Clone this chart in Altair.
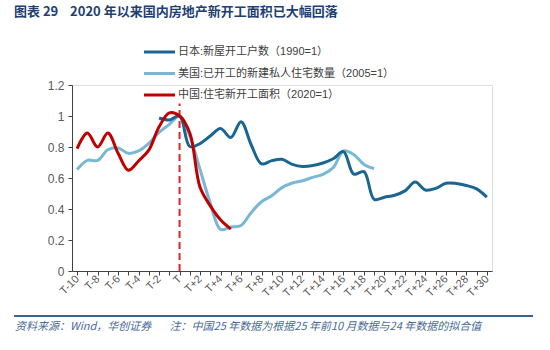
import altair as alt
import pandas as pd

periods = list(range(-10, 31))

japan = [None] * 8 + [0.987, 0.974, 1.0, 0.803, 0.822, 0.871, 0.920, 0.861, 0.963, 0.813,
                      0.691, 0.712, 0.721, 0.688, 0.674, 0.680, 0.697, 0.724, 0.770, 0.625,
                      0.641, 0.462, 0.476, 0.489, 0.517, 0.574, 0.523, 0.533, 0.566, 0.565,
                      0.552, 0.530, 0.477]
us = [0.655, 0.714, 0.713, 0.782, 0.794, 0.759, 0.775, 0.824, 0.894, 0.946,
      1.0, 0.871, 0.655, 0.438, 0.268, 0.284, 0.294, 0.378, 0.447, 0.485,
      0.538, 0.568, 0.582, 0.604, 0.624, 0.667, 0.774, 0.751, 0.687, 0.661] + [None] * 11
china = [0.79, 0.89, 0.80, 0.89, 0.76, 0.65, 0.71, 0.78, 0.93, 1.02,
         1.0, 0.89, 0.54, 0.42, 0.33, 0.27] + [None] * 25

series_names = ["日本:新屋开工户数（1990=1）",
                "美国:已开工的新建私人住宅数量（2005=1）",
                "中国:住宅新开工面积（2020=1）"]
colors = ["#1a6690", "#78b7d6", "#c00000"]

title_text = "图表\u00a029\u00a0\u00a0\u00a0\u00a02020\u00a0年以来国内房地产新开工面积已大幅回落"
source_text = "资料来源：Wind，华创证券\u3000\u00a0\u00a0\u00a0注：中国25\u00a0年数据为根据25\u00a0年前10\u00a0月数据与24\u00a0年数据的拟合值"

FONT = "Liberation Sans, Noto Sans CJK SC"

rows = []
for name, vals in zip(series_names, [japan, us, china]):
    for p, v in zip(periods, vals):
        if v is not None:
            rows.append({"t": p, "v": v, "s": name})
df = pd.DataFrame(rows)

xscale = alt.Scale(domain=[-10.5, 30.5], nice=False, zero=False)
yscale = alt.Scale(domain=[0, 1.2], nice=False)

xaxis = alt.Axis(
    values=periods,
    labelExpr="datum.value % 2 == 0 ? (datum.value == 0 ? 'T' : (datum.value > 0 ? 'T+' + datum.value : 'T' + datum.value)) : ''",
    labelAngle=-45, labelAlign="right", labelBaseline="middle",
    labelFontSize=11, labelColor="#595959", labelFont=FONT, labelPadding=2,
    tickSize=4, tickColor="#404040", domainColor="#404040",
    grid=False, title=None, labelOverlap=False, labelFlush=False,
)
yaxis = alt.Axis(
    values=[0, 0.2, 0.4, 0.6, 0.8, 1.0, 1.2], format=".1~f",
    labelFontSize=12, labelColor="#595959", labelFont=FONT, labelPadding=4,
    tickSize=4, tickColor="#404040", domainColor="#404040",
    grid=False, title=None,
)

base = alt.Chart(df)

vline = alt.Chart(pd.DataFrame({"t": [0], "y0": [0.0], "y1": [1.08]})).mark_rule(
    color="#d9262b", strokeWidth=2, strokeDash=[7, 4]
).encode(
    x=alt.X("t:Q", scale=xscale, axis=xaxis),
    y=alt.Y("y0:Q", scale=yscale, axis=yaxis),
    y2="y1:Q",
)

def series_line(i):
    return base.transform_filter(alt.datum.s == series_names[i]).mark_line(
        color=colors[i], strokeWidth=3, interpolate="catmull-rom"
    ).encode(
        x=alt.X("t:Q", scale=xscale, axis=xaxis),
        y=alt.Y("v:Q", scale=yscale, axis=yaxis),
    )

lines = [series_line(1), series_line(0), series_line(2)]

legend_layers = []
for i, name in enumerate(series_names):
    ld = pd.DataFrame({"s": [name]})
    ypos = -33 + 21.5 * i
    legend_layers.append(
        alt.Chart(ld).mark_rule(color=colors[i], strokeWidth=3).encode(
            x=alt.value(72), x2=alt.value(103), y=alt.value(ypos)
        )
    )
    legend_layers.append(
        alt.Chart(ld).mark_text(align="left", baseline="middle", fontSize=11,
                                color="#404040", font=FONT).encode(
            x=alt.value(106), y=alt.value(ypos), text="s:N"
        )
    )

title = alt.Chart(pd.DataFrame({"txt": [title_text]})).mark_text(
    align="left", baseline="middle", fontSize=13, fontWeight="bold",
    color="#1f3f73", font="Noto Sans CJK SC"
).encode(x=alt.value(-58), y=alt.value(-73), text="txt:N")

footer_line = alt.Chart(pd.DataFrame({"a": [1]})).mark_rule(
    color="#3a6497", strokeWidth=2
).encode(x=alt.value(-58), x2=alt.value(461), y=alt.value(231))

footer = alt.Chart(pd.DataFrame({"txt": [source_text]})).mark_text(
    align="left", baseline="middle", fontSize=11, fontStyle="italic",
    color="#4a6a9a", font="Noto Sans CJK SC"
).encode(x=alt.value(-57), y=alt.value(242), text="txt:N")

chart = alt.layer(vline, *lines, *legend_layers, title, footer_line, footer).properties(
    width=420, height=186,
    autosize=alt.AutoSizeParams(type="none"),
    padding={"left": 72, "top": 85, "right": 58, "bottom": 79},
).configure_view(stroke=None).configure(background="white")

chart.save("out.html", embed_options={"renderer": "svg", "actions": False})
